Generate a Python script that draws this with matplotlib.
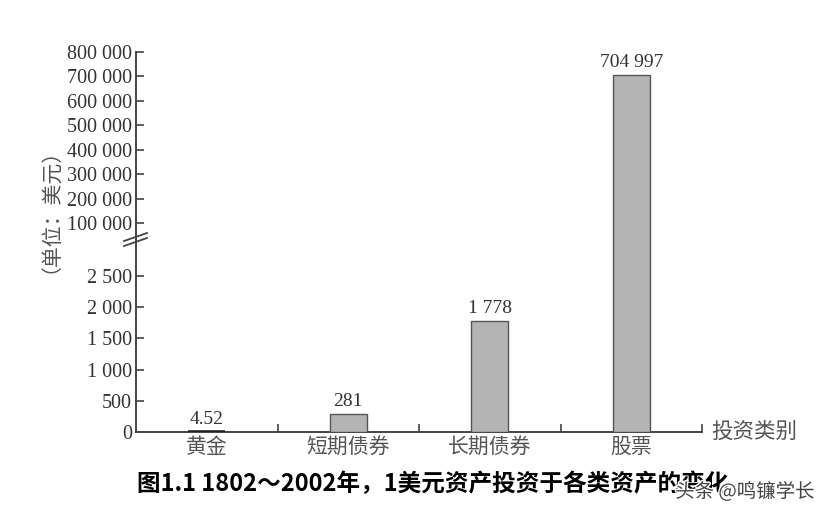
import numpy as np
import matplotlib
matplotlib.use("Agg")
import matplotlib.pyplot as plt
from matplotlib.scale import FuncScale
from matplotlib.lines import Line2D
import matplotlib.patheffects as pe

# ---------------- data ----------------
categories = ['黄金', '短期债券', '长期债券', '股票']
values = [4.52, 281, 1778, 704997]
value_labels = ['4.52', '281', '1 778', '704 997']
lower_ticks = [0, 500, 1000, 1500, 2000, 2500]
upper_ticks = [100000, 200000, 300000, 400000, 500000, 600000, 700000, 800000]
y_label = '（单位：美元）'
x_label = '投资类别'
title = '图1.1 1802～2002年，1美元资产投资于各类资产的变化'
watermark = '头条 @鸣镰学长'

# ---------------- broken (piecewise linear) scale ----------------
kv = np.array([-1e6, 0, 2500, 100000, 800000, 1e7])
kp = np.array([-1e6 * 156 / 2500, 0, 156, 209, 380, 380 + (1e7 - 8e5) * 171 / 7e5])

def fwd(v):
    return np.interp(v, kv, kp)

def inv(p):
    return np.interp(p, kp, kv)

W, H = 831, 518
fig = plt.figure(figsize=(W / 100, H / 100), dpi=100)
fig.patch.set_facecolor('white')

ax_left, ax_right, ax_top, ax_bot = 136, 702, 52, 432
ax = fig.add_axes([ax_left / W, (H - ax_bot) / H, (ax_right - ax_left) / W, (ax_bot - ax_top) / H])
ax.set_yscale(FuncScale(ax, (fwd, inv)))

serif = ['Liberation Serif', 'DejaVu Serif']
cjk = ['Noto Sans CJK SC', 'DejaVu Sans']

x = np.arange(len(categories))
ax.bar(x, values, width=0.26, color='#b4b4b4', edgecolor='#555555', linewidth=1.0, zorder=3)
# gold bar is nearly invisible: emphasize its baseline
ax.hlines(values[0], x[0] - 0.13, x[0] + 0.13, color='#222222', linewidth=2.6, zorder=4)

for xi, v, lab in zip(x, values, value_labels):
    ax.annotate(lab, (xi, v), xytext=(0, 3), textcoords='offset points',
                ha='center', va='bottom', fontsize=14, family=serif, color='#333333')

ax.set_xlim(-0.5, 3.5)
ax.set_ylim(0, 800000)

yt = lower_ticks + upper_ticks
ax.set_yticks(yt)
ax.set_yticklabels([f'{t:,}'.replace(',', ' ') for t in yt], family=serif, fontsize=14.5, color='#333333')
ax.tick_params(axis='y', direction='in', length=6, width=1.2, pad=3, colors='#444444', labelcolor='#333333')
ax.yaxis.set_minor_locator(matplotlib.ticker.NullLocator())

ax.set_xticks(x)
ax.set_xticklabels(categories, family=cjk, fontsize=15, color='#555555')
ax.tick_params(axis='x', which='major', length=0, pad=3)
ax.set_xticks([0.5, 1.5, 2.5, 3.5], minor=True)
ax.tick_params(axis='x', which='minor', direction='in', length=6, width=1.2, colors='#444444')

for s in ['top', 'right']:
    ax.spines[s].set_visible(False)
for s in ['left', 'bottom']:
    ax.spines[s].set_color('#444444')
    ax.spines[s].set_linewidth(1.4)

# break marks on the y axis
for (x0, y0, x1, y1) in [(124, 241, 147, 233), (124, 246, 147, 238)]:
    fig.add_artist(Line2D([x0 / W, x1 / W], [(H - y0) / H, (H - y1) / H],
                          transform=fig.transFigure, color='#444444', linewidth=1.3))

# axis labels
fig.text(40 / W, (H - 200) / H, y_label, rotation=90, ha='center', va='center',
         family=cjk, fontsize=15, color='#555555')
fig.text(711 / W, (H - 432) / H, x_label, ha='left', va='center',
         family=cjk, fontsize=15.5, color='#555555')

# title
fig.text(137 / W, (H - 484) / H, title, ha='left', va='center',
         family=cjk, fontsize=17, fontweight='bold', color='black')

# watermark (overlaps the title's end, as in the reference)
fig.text(815 / W, (H - 492) / H, watermark, ha='right', va='center',
         family=cjk, fontsize=14, color='#444444',
         path_effects=[pe.withStroke(linewidth=2, foreground='white')])

fig.savefig('out.png', dpi=100, facecolor='white')
